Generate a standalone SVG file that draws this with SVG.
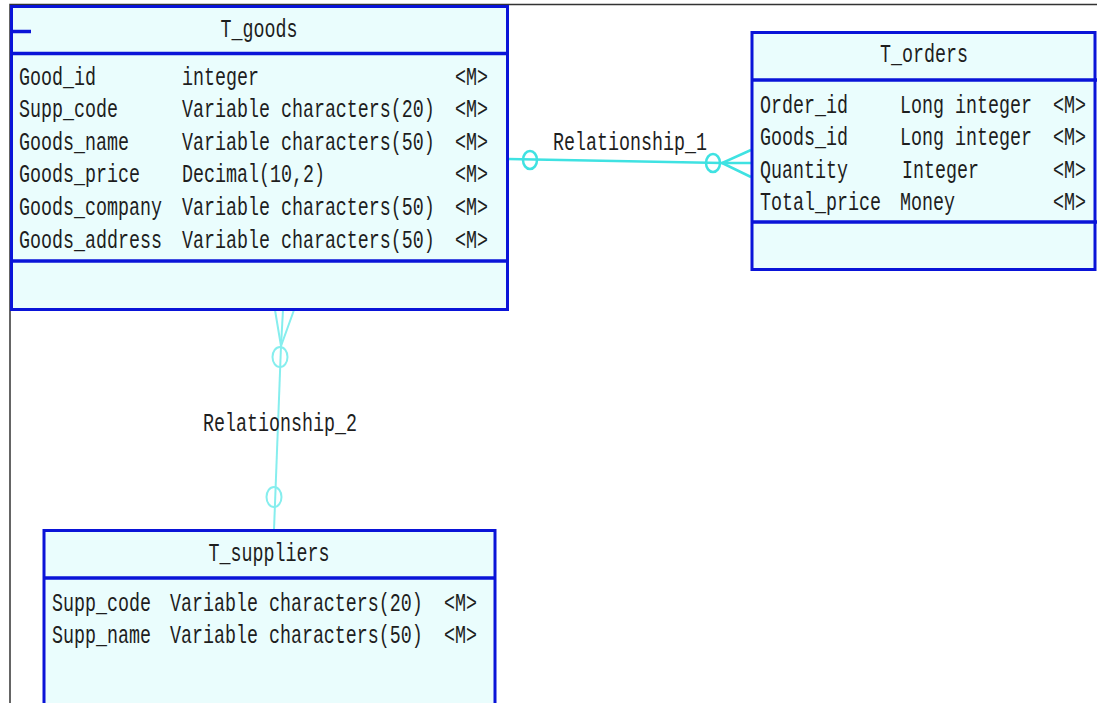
<svg xmlns="http://www.w3.org/2000/svg" width="1097" height="703" viewBox="0 0 1097 703">
<style>
.box{fill:#eafdfd;stroke:#0a14d8;stroke-width:3}
.div{stroke:#0a14d8;stroke-width:3.5}
text{font-family:"Liberation Mono","DejaVu Sans Mono",monospace;font-size:18.33px;fill:#1e1e1e}
.title{text-anchor:middle}
.c1{fill:none;stroke:#3fe2e2;stroke-width:2.5}
.c2{fill:none;stroke:#86eeee;stroke-width:2}
</style>
<rect x="0" y="0" width="1097" height="703" fill="#ffffff"/>
<polyline points="10,703 10,4.5 1097,4.5" fill="none" stroke="#333" stroke-width="1.5"/>

<g id="connectors">
  <g id="rel1">
    <line class="c1" x1="508" y1="159" x2="722" y2="163"/>
    <ellipse class="c1" cx="530" cy="160" rx="7" ry="9" fill="#fff"/>
    <ellipse class="c1" cx="713" cy="163" rx="7" ry="9" fill="#fff"/>
    <polyline class="c1" points="751,150 722,163 751,177"/>
    <line class="c1" x1="722" y1="163" x2="751" y2="163"/>
    <text class="title" transform="matrix(1,0,0,1.4,630,150)">Relationship_1</text>
  </g>
  <g id="rel2">
    <polyline class="c2" points="275,310 281,346 294,310"/>
    <line class="c2" x1="281" y1="346" x2="283" y2="310"/>
    <line class="c2" x1="281" y1="346" x2="274" y2="530"/>
    <ellipse class="c2" cx="280" cy="357" rx="7.5" ry="10" fill="#fff"/>
    <ellipse class="c2" cx="274" cy="497" rx="7.5" ry="10" fill="#fff"/>
    <text class="title" transform="matrix(1,0,0,1.4,280,431)">Relationship_2</text>
  </g>
</g>

<g id="T_goods">
  <rect class="box" x="11.5" y="6.5" width="496" height="303"/>
  <line class="div" x1="11.5" y1="53.5" x2="509" y2="53.5"/>
  <line class="div" x1="11.5" y1="261" x2="509" y2="261"/>
  <line class="div" x1="12" y1="31.5" x2="31" y2="31.5"/>
  <text class="title" transform="matrix(1,0,0,1.4,259,37)">T_goods</text>
  <text transform="matrix(1,0,0,1.4,19,85)">Good_id</text>
  <text transform="matrix(1,0,0,1.4,182,85)">integer</text>
  <text transform="matrix(1,0,0,1.4,455,85)">&lt;M&gt;</text>
  <text transform="matrix(1,0,0,1.4,19,117)">Supp_code</text>
  <text transform="matrix(1,0,0,1.4,182,117)">Variable characters(20)</text>
  <text transform="matrix(1,0,0,1.4,455,117)">&lt;M&gt;</text>
  <text transform="matrix(1,0,0,1.4,19,150)">Goods_name</text>
  <text transform="matrix(1,0,0,1.4,182,150)">Variable characters(50)</text>
  <text transform="matrix(1,0,0,1.4,455,150)">&lt;M&gt;</text>
  <text transform="matrix(1,0,0,1.4,19,182)">Goods_price</text>
  <text transform="matrix(1,0,0,1.4,182,182)">Decimal(10,2)</text>
  <text transform="matrix(1,0,0,1.4,455,182)">&lt;M&gt;</text>
  <text transform="matrix(1,0,0,1.4,19,215)">Goods_company</text>
  <text transform="matrix(1,0,0,1.4,182,215)">Variable characters(50)</text>
  <text transform="matrix(1,0,0,1.4,455,215)">&lt;M&gt;</text>
  <text transform="matrix(1,0,0,1.4,19,248)">Goods_address</text>
  <text transform="matrix(1,0,0,1.4,182,248)">Variable characters(50)</text>
  <text transform="matrix(1,0,0,1.4,455,248)">&lt;M&gt;</text>
</g>

<g id="T_orders">
  <rect class="box" x="752" y="32.5" width="343" height="237"/>
  <line class="div" x1="752" y1="80" x2="1097" y2="80"/>
  <line class="div" x1="752" y1="222" x2="1097" y2="222"/>
  <text class="title" transform="matrix(1,0,0,1.4,924,62)">T_orders</text>
  <text transform="matrix(1,0,0,1.4,760,113)">Order_id</text>
  <text transform="matrix(1,0,0,1.4,900,113)">Long integer</text>
  <text transform="matrix(1,0,0,1.4,1053,113)">&lt;M&gt;</text>
  <text transform="matrix(1,0,0,1.4,760,145)">Goods_id</text>
  <text transform="matrix(1,0,0,1.4,900,145)">Long integer</text>
  <text transform="matrix(1,0,0,1.4,1053,145)">&lt;M&gt;</text>
  <text transform="matrix(1,0,0,1.4,760,178)">Quantity</text>
  <text transform="matrix(1,0,0,1.4,902,178)">Integer</text>
  <text transform="matrix(1,0,0,1.4,1053,178)">&lt;M&gt;</text>
  <text transform="matrix(1,0,0,1.4,760,210)">Total_price</text>
  <text transform="matrix(1,0,0,1.4,900,210)">Money</text>
  <text transform="matrix(1,0,0,1.4,1053,210)">&lt;M&gt;</text>
</g>

<g id="T_suppliers">
  <rect class="box" x="44" y="530.5" width="451" height="185"/>
  <line class="div" x1="44" y1="578" x2="495" y2="578"/>
  <text class="title" transform="matrix(1,0,0,1.4,269,561)">T_suppliers</text>
  <text transform="matrix(1,0,0,1.4,52,611)">Supp_code</text>
  <text transform="matrix(1,0,0,1.4,170,611)">Variable characters(20)</text>
  <text transform="matrix(1,0,0,1.4,444,611)">&lt;M&gt;</text>
  <text transform="matrix(1,0,0,1.4,52,643)">Supp_name</text>
  <text transform="matrix(1,0,0,1.4,170,643)">Variable characters(50)</text>
  <text transform="matrix(1,0,0,1.4,444,643)">&lt;M&gt;</text>
</g>
</svg>
